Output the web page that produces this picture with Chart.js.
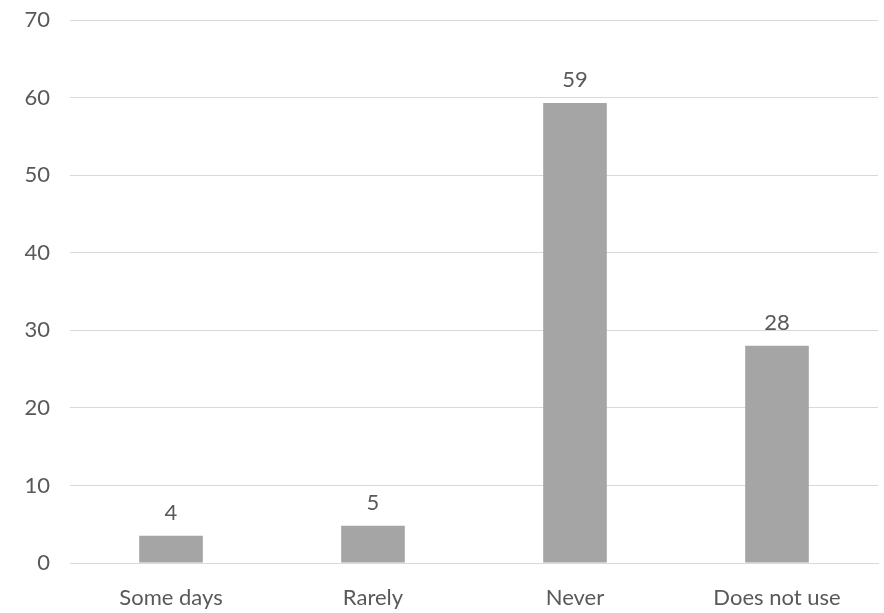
<!DOCTYPE html>
<html>
<head>
<meta charset="utf-8">
<script src="https://cdn.jsdelivr.net/npm/chart.js@4/dist/chart.umd.min.js"></script>
<style>
  html,body{margin:0;padding:0;background:#fff;}
  #wrap{width:884px;height:613px;}
</style>
</head>
<body>
<div id="wrap"><canvas id="grafico"></canvas></div>
<script>
const categorias = ["Some days","Rarely","Never","Does not use"];
const valores = [3.5, 4.8, 59.3, 28];
const etiquetas = ["4","5","59","28"];

const fuente = "Lato, 'Open Sans', sans-serif";
const gris = "#595959";

/* ---------- etiquetas encima de las barras ---------- */
const etiquetasBarras = {
  id: "etiquetasBarras",
  afterDatasetsDraw(chart){
    const ctx = chart.ctx;
    const meta = chart.getDatasetMeta(0);
    ctx.save();
    ctx.font = "22px " + fuente;
    ctx.fillStyle = gris;
    ctx.textAlign = "center";
    ctx.textBaseline = "alphabetic";
    meta.data.forEach((bar,i)=>{
      ctx.fillText(etiquetas[i], bar.x, bar.y - 16);
    });
    ctx.restore();
  }
};

new Chart(document.getElementById("grafico"),{
  type: "bar",
  data: {
    labels: categorias,
    datasets: [{ data: valores, backgroundColor: "#a5a5a5", barPercentage: 0.63, categoryPercentage: 0.5 }]
  },
  options: {
    responsive: true,
    maintainAspectRatio: false,
    animation: false,
    layout: { padding: { top: 20, right: 6, left: 0, bottom: 0 } },
    plugins: { legend: { display: false }, tooltip: { enabled: false } },
    scales: {
      x: {
        grid: { display: false, drawTicks: false },
        border: { color: "#d9d9d9", width: 1 },
        ticks: { color: gris, font: { family: fuente, size: 22 }, padding: 22, maxRotation: 0 },
        afterFit(s){ s.height = 50; s.paddingLeft = 0; s.paddingRight = 0; }
      },
      y: {
        min: 0, max: 70,
        ticks: { stepSize: 10, color: gris, font: { family: fuente, size: 22 }, padding: 20 },
        grid: { color: "#d9d9d9", drawTicks: false },
        border: { display: false },
        afterFit(s){ s.width = 70; s.paddingTop = 0; s.paddingBottom = 0; }
      }
    }
  },
  plugins: [etiquetasBarras]
});
</script>
</body>
</html>
